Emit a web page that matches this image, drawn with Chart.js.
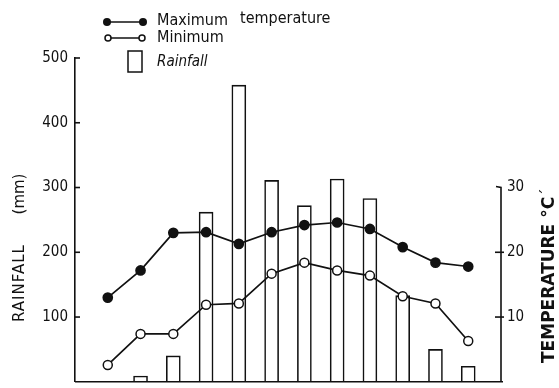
<!DOCTYPE html>
<html>
<head>
<meta charset="utf-8">
<script src="https://cdn.jsdelivr.net/npm/chart.js@4.4.0/dist/chart.umd.min.js"></script>
<style>
  html, body { margin: 0; padding: 0; background: #fff; }
</style>
</head>
<body>
<canvas id="climate" width="559" height="388"></canvas>
<script>
// месяцы (1..12), осадки в мм, температура в °C
const months = [1, 2, 3, 4, 5, 6, 7, 8, 9, 10, 11, 12];
const rainfall = [null, 9, 40, 262, 458, 311, 272, 313, 283, 133, 50, 24];
const maxTemp = [13.0, 17.2, 23.0, 23.1, 21.3, 23.1, 24.2, 24.6, 23.6, 20.8, 18.4, 17.8];
const minTemp = [2.6, 7.4, 7.4, 11.9, 12.1, 16.7, 18.4, 17.2, 16.4, 13.2, 12.1, 6.3];
const rainTicks = [100, 200, 300, 400, 500];
const tempTicks = [10, 20, 30];

const FONT = '"DejaVu Sans Condensed", "DejaVu Sans", sans-serif';
const FONT_WIDE = '"DejaVu Sans", sans-serif';
const INK = '#111';

const toPoints = (arr) => months.map((m, i) => ({x: m, y: arr[i]}));

// оси, подписи и легенда, нарисованные поверх графика
const decorPlugin = {
    id: 'decor',
    afterDraw(chart) {
        const {ctx, chartArea, scales} = chart;
        const y = scales.y, y1 = scales.y1;
        ctx.save();
        ctx.strokeStyle = INK;
        ctx.fillStyle = INK;
        ctx.lineWidth = 1.6;

        // нижняя ось
        ctx.beginPath();
        ctx.moveTo(chartArea.left, chartArea.bottom);
        ctx.lineTo(chartArea.right + 2, chartArea.bottom);
        ctx.stroke();

        // левая ось: засечки внутрь
        rainTicks.forEach(v => {
            const py = y.getPixelForValue(v);
            ctx.beginPath();
            ctx.moveTo(chartArea.left - 1, py);
            ctx.lineTo(chartArea.left + 5, py);
            ctx.stroke();
        });

        // правая ось только до 30
        const top30 = y1.getPixelForValue(30);
        ctx.beginPath();
        ctx.moveTo(chartArea.right, chartArea.bottom);
        ctx.lineTo(chartArea.right, top30);
        ctx.lineTo(chartArea.right - 5, top30 - 1);
        ctx.stroke();
        tempTicks.slice(0, 2).forEach(v => {
            const py = y1.getPixelForValue(v);
            ctx.beginPath();
            ctx.moveTo(chartArea.right + 3, py);
            ctx.lineTo(chartArea.right - 6, py);
            ctx.stroke();
        });

        // заголовки осей
        ctx.textBaseline = 'middle';
        ctx.font = '15px ' + FONT_WIDE;
        ctx.save();
        ctx.translate(20, 0);
        ctx.rotate(-Math.PI / 2);
        ctx.textAlign = 'center';
        ctx.letterSpacing = '1px';
        ctx.fillText('RAINFALL', -283, 0);
        ctx.letterSpacing = '0px';
        ctx.fillText('(mm)', -194, 0);
        ctx.restore();

        ctx.save();
        ctx.translate(550, 0);
        ctx.rotate(-Math.PI / 2);
        ctx.textAlign = 'left';
        ctx.font = 'bold 17px ' + FONT_WIDE;
        ctx.fillText('TEMPERATURE °C', -363, 0);
        ctx.font = '15px ' + FONT_WIDE;
        ctx.fillText('´', -196, -2);
        ctx.restore();

        // легенда
        ctx.font = '16px ' + FONT;
        ctx.textAlign = 'left';
        ctx.lineWidth = 1.5;
        // максимум
        ctx.beginPath();
        ctx.moveTo(107, 22); ctx.lineTo(143, 22); ctx.stroke();
        [107, 143].forEach(px => {
            ctx.beginPath(); ctx.arc(px, 22, 4, 0, Math.PI * 2); ctx.fill();
        });
        ctx.fillText('Maximum', 157, 21);
        ctx.fillText('temperature', 240, 19);
        // минимум
        ctx.beginPath();
        ctx.moveTo(111, 38); ctx.lineTo(139, 38); ctx.stroke();
        [108, 142].forEach(px => {
            ctx.beginPath(); ctx.arc(px, 38, 3, 0, Math.PI * 2);
            ctx.fillStyle = '#fff'; ctx.fill();
            ctx.fillStyle = INK; ctx.stroke();
        });
        ctx.fillText('Minimum', 157, 38);
        // осадки
        ctx.strokeRect(128, 51, 14, 21);
        ctx.font = 'italic 15px ' + FONT;
        ctx.fillText('Rainfall', 157, 62);

        ctx.restore();
    }
};

// убираем запас под подписи снизу, чтобы ось шла почти до края
function fixVertical(width) {
    return function (scale) {
        scale.width = width;
        scale.paddingBottom = 0;
        scale.paddingTop = 0;
    };
}

const ctx = document.getElementById('climate').getContext('2d');
new Chart(ctx, {
    data: {
        datasets: [
            {
                type: 'line',
                label: 'Maximum temperature',
                data: toPoints(maxTemp),
                yAxisID: 'y1',
                borderColor: INK,
                borderWidth: 1.7,
                pointRadius: 4.5,
                pointBackgroundColor: INK,
                pointBorderColor: INK,
                tension: 0,
                order: 1
            },
            {
                type: 'line',
                label: 'Minimum',
                data: toPoints(minTemp),
                yAxisID: 'y1',
                borderColor: INK,
                borderWidth: 1.7,
                pointRadius: 4.5,
                pointBorderWidth: 1.5,
                pointBackgroundColor: '#fff',
                pointBorderColor: INK,
                tension: 0,
                order: 1
            },
            {
                type: 'bar',
                label: 'Rainfall',
                data: toPoints(rainfall),
                yAxisID: 'y',
                backgroundColor: '#fff',
                borderColor: INK,
                borderWidth: 1.6,
                barThickness: 14,
                order: 3
            }
        ]
    },
    options: {
        responsive: false,
        animation: false,
        layout: { padding: { top: 58, bottom: 2, left: 0, right: 0 } },
        plugins: { legend: { display: false }, tooltip: { enabled: false } },
        scales: {
            x: {
                type: 'linear',
                display: false,
                min: 0,
                max: 13,
                offset: false
            },
            y: {
                position: 'left',
                min: 0,
                max: 500,
                grid: { display: false, drawTicks: false, tickLength: 0 },
                border: { display: true, color: INK, width: 1.6 },
                afterBuildTicks(scale) { scale.ticks = rainTicks.map(v => ({value: v})); },
                ticks: { color: INK, font: { family: FONT, size: 15 }, padding: 7 },
                afterFit: fixVertical(75)
            },
            y1: {
                position: 'right',
                min: 0,
                max: 50,
                grid: { display: false, drawTicks: false, tickLength: 0 },
                border: { display: false },
                afterBuildTicks(scale) { scale.ticks = tempTicks.map(v => ({value: v})); },
                ticks: { color: INK, font: { family: FONT, size: 15 }, padding: 6 },
                afterFit: fixVertical(58)
            }
        }
    },
    plugins: [decorPlugin]
});
</script>
</body>
</html>
